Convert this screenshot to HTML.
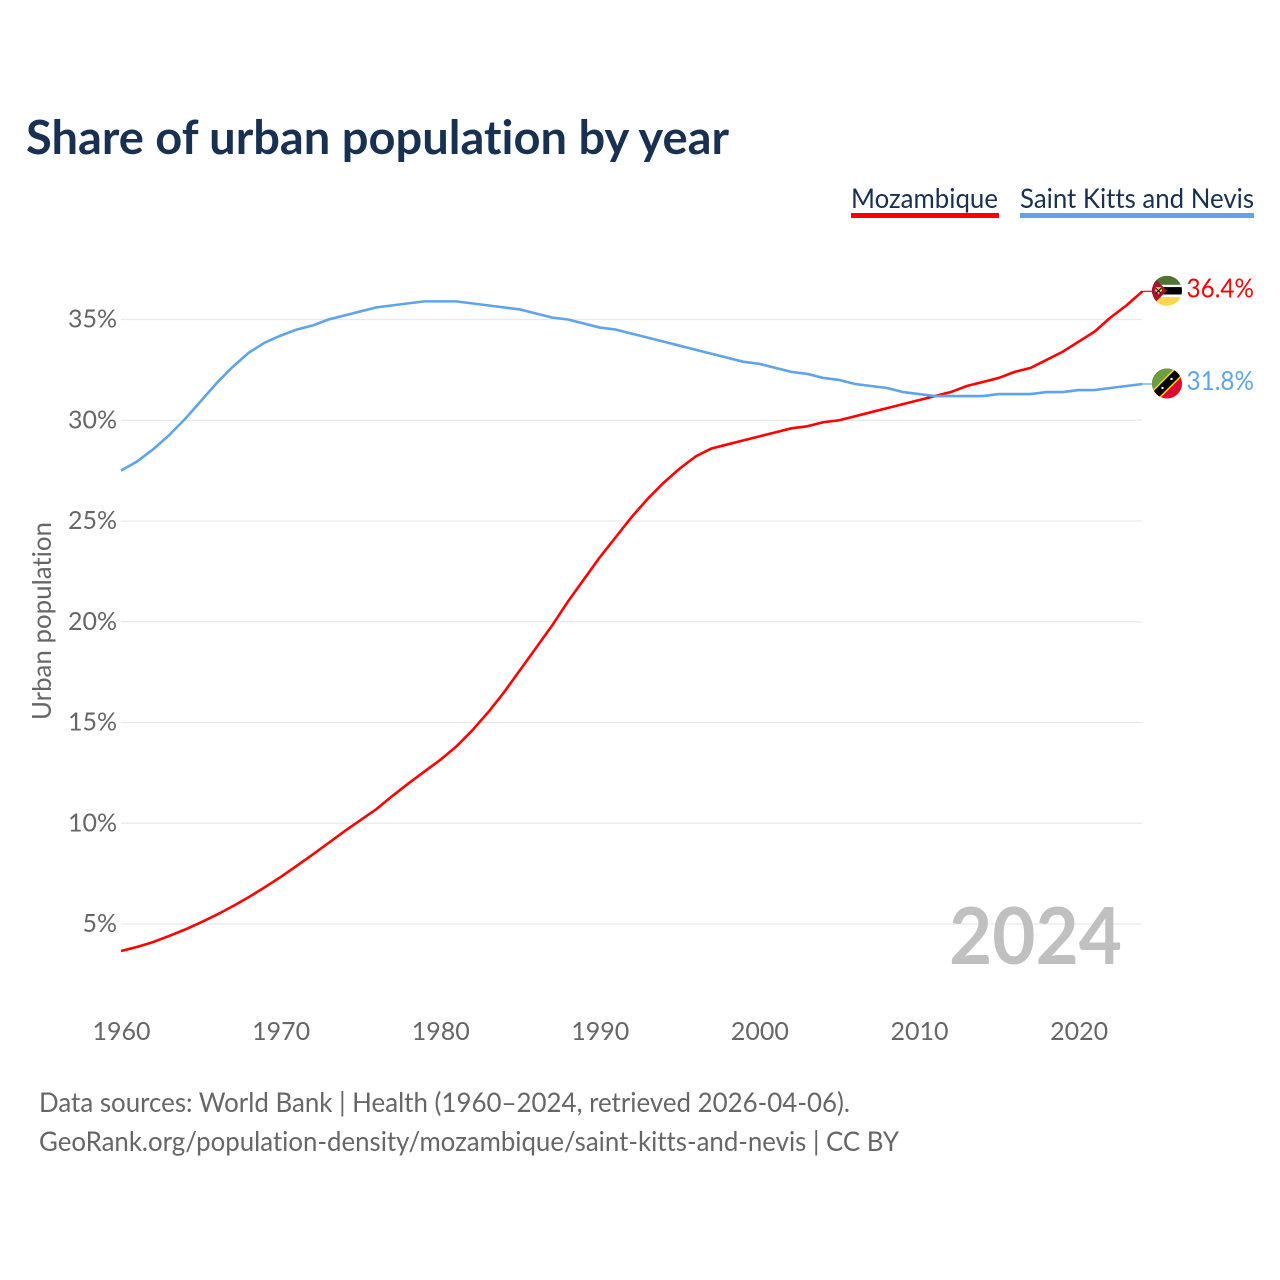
<!DOCTYPE html>
<html lang="en">
<head>
<meta charset="utf-8">
<title>Share of urban population by year</title>
<style>
html,body{margin:0;padding:0;background:#fff;}
svg{display:block;font-family:"Lato","Carlito","Liberation Sans",sans-serif;font-variant-ligatures:none;}
</style>
</head>
<body>
<svg id="chart" width="1280" height="1280" viewBox="0 0 1280 1280" xmlns="http://www.w3.org/2000/svg">
<defs>
<clipPath id="flag-clip-mz"><circle cx="0" cy="0" r="15"/></clipPath>
<clipPath id="flag-clip-kn"><circle cx="0" cy="0" r="15"/></clipPath>
</defs>
<rect x="0" y="0" width="1280" height="1280" fill="#ffffff"/>
<text x="26" y="154" font-size="47" font-weight="700" fill="#183153" textLength="703" lengthAdjust="spacingAndGlyphs">Share of urban population by year</text>

<g>
<g>
<text x="851" y="208" font-size="27" fill="#183153" textLength="147" lengthAdjust="spacingAndGlyphs">Mozambique</text>
<rect x="851" y="213" width="148" height="5" fill="#ff0000"/>
</g>
<g>
<text x="1020" y="208" font-size="27" fill="#183153" textLength="234" lengthAdjust="spacingAndGlyphs">Saint Kitts and Nevis</text>
<rect x="1020" y="213" width="234" height="5" fill="#5fa4ea"/>
</g>
</g>

<g id="grid"></g>
<g id="yticks"></g>
<g id="xticks"></g>
<text transform="translate(51,621) rotate(-90)" text-anchor="middle" font-size="26" fill="#666666" textLength="198" lengthAdjust="spacingAndGlyphs">Urban population</text>

<text x="949" y="964" font-size="79" font-weight="700" fill="#c0c0c0" textLength="173" lengthAdjust="spacingAndGlyphs">2024</text>

<g id="series"></g>

<g id="flag-mz">
<g clip-path="url(#flag-clip-mz)">
<rect x="-15" y="-15" width="30" height="30" fill="#ffffff"/>
<rect x="-15" y="-15" width="30" height="9" fill="#4e7431"/>
<rect x="-15" y="-3.7" width="30" height="7.4" fill="#000000"/>
<rect x="-15" y="6.3" width="30" height="9" fill="#fcd64e"/>
<polygon points="-15,-15 0,0 -15,15" fill="#a8132f"/>
<polygon points="-11,-3.5 -6,-3.5 -5,0 -8.5,3.5 -12,0" fill="#f3d85a"/>
<path d="M-11,-2.5 L-6,2.5 M-6,-2.5 L-11,2.5" stroke="#111111" stroke-width="1.2"/>
</g>
</g>
<g id="flag-kn">
<g clip-path="url(#flag-clip-kn)">
<rect x="-15" y="-15" width="30" height="30" fill="#dc0a2d"/>
<polygon points="-15,-15 15,-15 -15,15" fill="#6a9e3f"/>
<path d="M-17,17 L17,-17" stroke="#fcd116" stroke-width="11"/>
<path d="M-17,17 L17,-17" stroke="#000000" stroke-width="8"/>
<circle cx="-4.5" cy="4.5" r="1.2" fill="#ffffff"/>
<circle cx="4.5" cy="-4.5" r="1.2" fill="#ffffff"/>
</g>
</g>

<text id="value-mz" x="1186.5" y="297" font-size="26.5" fill="#ff0000" textLength="67.5" lengthAdjust="spacingAndGlyphs"></text>
<text id="value-kn" x="1186.5" y="390" font-size="26.5" fill="#5fa4ea" textLength="67.5" lengthAdjust="spacingAndGlyphs"></text>

<text x="39" y="1112" font-size="27" fill="#666666" textLength="811" lengthAdjust="spacingAndGlyphs">Data sources: World Bank | Health (1960–2024, retrieved 2026-04-06).</text>
<text x="39" y="1151" font-size="27" fill="#666666" textLength="860" lengthAdjust="spacingAndGlyphs">GeoRank.org/population-density/mozambique/saint-kitts-and-nevis | CC BY</text>
</svg>

<script>
const years = [1960,1961,1962,1963,1964,1965,1966,1967,1968,1969,1970,1971,1972,1973,1974,1975,1976,1977,1978,1979,1980,1981,1982,1983,1984,1985,1986,1987,1988,1989,1990,1991,1992,1993,1994,1995,1996,1997,1998,1999,2000,2001,2002,2003,2004,2005,2006,2007,2008,2009,2010,2011,2012,2013,2014,2015,2016,2017,2018,2019,2020,2021,2022,2023,2024];
const mozambique = [3.66,3.86,4.1,4.4,4.72,5.08,5.46,5.88,6.33,6.82,7.33,7.88,8.44,9.02,9.6,10.15,10.7,11.35,11.97,12.56,13.14,13.8,14.6,15.5,16.5,17.6,18.7,19.8,21.0,22.1,23.2,24.2,25.2,26.1,26.9,27.6,28.2,28.6,28.8,29.0,29.2,29.4,29.6,29.7,29.9,30.0,30.2,30.4,30.6,30.8,31.0,31.2,31.4,31.7,31.9,32.1,32.4,32.6,33.0,33.4,33.9,34.4,35.1,35.7,36.4];
const saintKitts = [27.5,27.95,28.55,29.25,30.05,30.95,31.85,32.65,33.35,33.85,34.2,34.5,34.7,35.0,35.2,35.4,35.6,35.7,35.8,35.9,35.9,35.9,35.8,35.7,35.6,35.5,35.3,35.1,35.0,34.8,34.6,34.5,34.3,34.1,33.9,33.7,33.5,33.3,33.1,32.9,32.8,32.6,32.4,32.3,32.1,32.0,31.8,31.7,31.6,31.4,31.3,31.2,31.2,31.2,31.2,31.3,31.3,31.3,31.4,31.4,31.5,31.5,31.6,31.7,31.8];
const yTickValues = [5,10,15,20,25,30,35];
const xTickValues = [1960,1970,1980,1990,2000,2010,2020];

const NS = 'http://www.w3.org/2000/svg';
const xAt = function (year) { return 121 + (year - 1960) * 15.96; };
const yAt = function (value) { return 924 - (value - 5) * 20.15; };

const gridLayer = document.getElementById('grid');
const yTickLayer = document.getElementById('yticks');
const xTickLayer = document.getElementById('xticks');
const seriesLayer = document.getElementById('series');

yTickValues.forEach(function (v) {
  const line = document.createElementNS(NS, 'line');
  
  
  line.setAttribute('x1', 121);
  line.setAttribute('x2', 1142);
  line.setAttribute('y1', yAt(v));
  line.setAttribute('y2', yAt(v));
  line.setAttribute('stroke', '#e9e9e9');
  line.setAttribute('stroke-width', '1.2');
  gridLayer.appendChild(line);

  const label = document.createElementNS(NS, 'text');
  
  
  label.setAttribute('x', 117);
  label.setAttribute('y', yAt(v) + 8);
  label.setAttribute('text-anchor', 'end');
  label.setAttribute('font-size', '25');
  label.setAttribute('fill', '#666666');
  label.textContent = v + '%';
  yTickLayer.appendChild(label);
});

xTickValues.forEach(function (y) {
  const label = document.createElementNS(NS, 'text');
  
  
  label.setAttribute('x', xAt(y) + 0.5);
  label.setAttribute('y', 1040);
  label.setAttribute('text-anchor', 'middle');
  label.setAttribute('font-size', '25');
  label.setAttribute('fill', '#666666');
  label.textContent = y;
  xTickLayer.appendChild(label);
});

function drawSeries(values, color, name) {
  const d = values.map(function (v, i) {
    return (i ? 'L' : 'M') + xAt(years[i]).toFixed(2) + ',' + yAt(v).toFixed(2);
  }).join(' ');
  const path = document.createElementNS(NS, 'path');
  
  
  path.setAttribute('d', d);
  path.setAttribute('fill', 'none');
  path.setAttribute('stroke', color);
  path.setAttribute('stroke-width', '2.6');
  path.setAttribute('stroke-linejoin', 'round');
  seriesLayer.appendChild(path);

  const lastY = yAt(values[values.length - 1]);
  const lastX = xAt(years[years.length - 1]);
  const connector = document.createElementNS(NS, 'line');
  
  
  connector.setAttribute('x1', lastX);
  connector.setAttribute('x2', lastX + 10);
  connector.setAttribute('y1', lastY);
  connector.setAttribute('y2', lastY);
  connector.setAttribute('stroke', color);
  connector.setAttribute('stroke-width', '1.2');
  seriesLayer.appendChild(connector);
  return lastY;
}

const mzEndY = drawSeries(mozambique, '#ff0000', 'mozambique');
const knEndY = drawSeries(saintKitts, '#5fa4ea', 'saint-kitts-and-nevis');

document.getElementById('flag-mz').setAttribute('transform', 'translate(1167,' + (mzEndY - 0.5) + ')');
document.getElementById('flag-kn').setAttribute('transform', 'translate(1167,' + (knEndY - 0.5) + ')');

const mzLabel = document.getElementById('value-mz');
mzLabel.textContent = mozambique[mozambique.length - 1].toFixed(1) + '%';
mzLabel.setAttribute('y', mzEndY + 6);
const knLabel = document.getElementById('value-kn');
knLabel.textContent = saintKitts[saintKitts.length - 1].toFixed(1) + '%';
knLabel.setAttribute('y', knEndY + 6);
</script>
</body>
</html>
